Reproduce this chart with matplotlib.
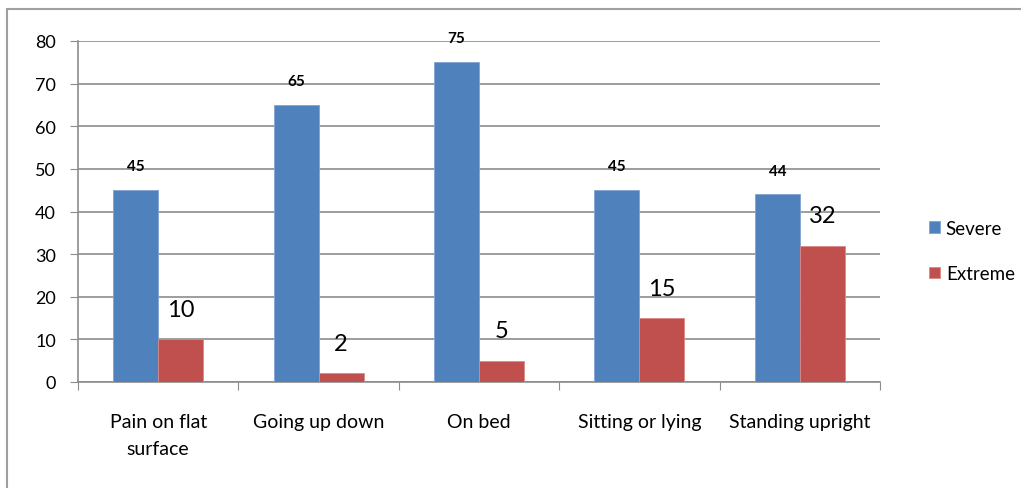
import matplotlib.pyplot as plt
from matplotlib.patches import Rectangle
import numpy as np

categories = ["Pain on flat\nsurface", "Going up down", "On bed", "Sitting or lying", "Standing upright"]
severe = [45, 65, 75, 45, 44]
extreme = [10, 2, 5, 15, 32]

plt.rcParams['font.family'] = ['Lato', 'DejaVu Sans']

fig = plt.figure(figsize=(10.21, 4.89), dpi=100)
ax = fig.add_axes([78 / 1021, 1 - 383 / 489, (880 - 78) / 1021, (383 - 42) / 489])

# outer chart frame
fig.patches.append(Rectangle((7 / 1021, -0.1), 1.1, 1 - 10 / 489 + 0.1, transform=fig.transFigure,
                             fill=False, edgecolor="#a0a0a0", lw=1.5))

x = np.arange(len(categories))
w = 0.28
b1 = ax.bar(x - w / 2, severe, w, color="#4F81BD", edgecolor="#7fa3d0", lw=0.6, label="Severe", zorder=3)
b2 = ax.bar(x + w / 2, extreme, w, color="#C0504D", edgecolor="#d88a88", lw=0.6, label="Extreme", zorder=3)

for xi, v in zip(x, severe):
    ax.text(xi - w / 2, v + 5.6, str(v), ha="center", va="center", fontsize=11, fontweight="bold", zorder=4)
for xi, v in zip(x, extreme):
    ax.text(xi + w / 2, v + 7, str(v), ha="center", va="center", fontsize=17, zorder=4)

ax.set_xlim(-0.5, len(categories) - 0.5)
ax.set_ylim(0, 80)
ax.set_yticks(range(0, 81, 10))
ax.yaxis.grid(True, color="#8c8c8c", lw=1.2, zorder=0)
ax.tick_params(axis="y", length=6, color="#8c8c8c", labelsize=13, pad=10)
ax.set_xticks(np.arange(-0.5, len(categories), 1))
ax.set_xticklabels([])
ax.set_xticks(x, minor=True)
ax.set_xticklabels(categories, minor=True, fontsize=14, linespacing=1.75)
ax.tick_params(axis="x", which="major", length=6, color="#8c8c8c", direction="out")
ax.tick_params(axis="x", which="minor", length=0, pad=22)
for s in ["top", "right"]:
    ax.spines[s].set_visible(False)
for s in ["left", "bottom"]:
    ax.spines[s].set_color("#8c8c8c")
    ax.spines[s].set_linewidth(1.2)

fig.legend(handles=[b1, b2], loc="center left", bbox_to_anchor=(912 / 1021, 1 - 252 / 489),
           frameon=False, fontsize=13.5, handlelength=0.6, handleheight=0.6, handletextpad=0.3,
           labelspacing=1.5)

fig.savefig("out.png", dpi=100)
